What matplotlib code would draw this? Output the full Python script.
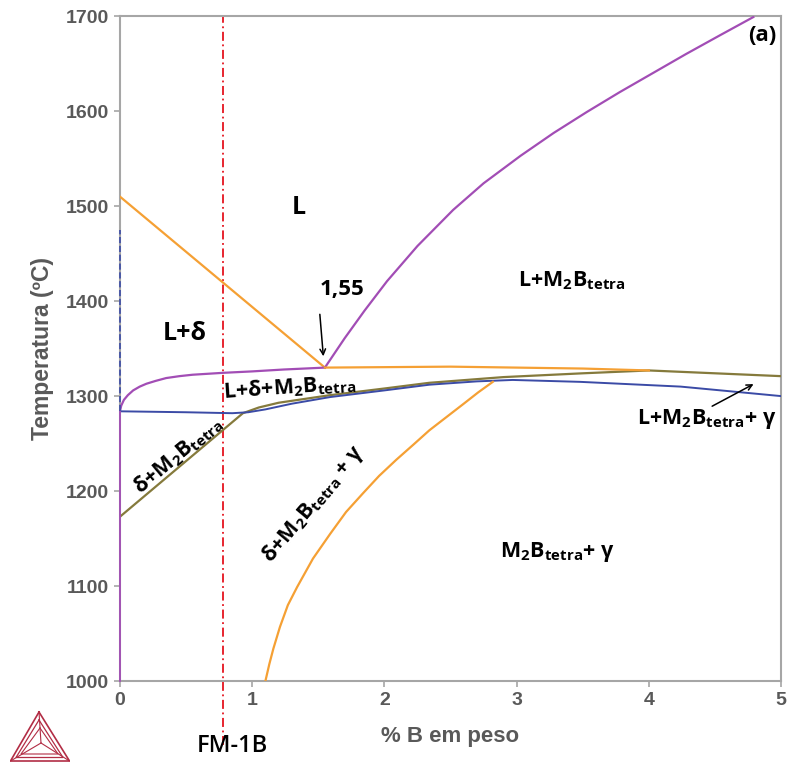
import matplotlib
matplotlib.use("Agg")
import matplotlib.pyplot as plt

# fonts: Arial-like for axes, Calibri-like for the phase labels
plt.rcParams['font.family'] = ['Liberation Sans', 'DejaVu Sans']
plt.rcParams['mathtext.fontset'] = 'custom'
plt.rcParams['mathtext.rm'] = 'Open Sans'
plt.rcParams['mathtext.bf'] = 'Open Sans:bold'

# ---- data (wt% B, temperature degC) ----
liq_delta_x = [0.0, 1.55]
liq_delta_T = [1510, 1330]

liq_m2b_x = [1.55, 1.70, 1.85, 2.02, 2.25, 2.52, 2.75, 3.03, 3.28, 3.53,
             3.78, 4.03, 4.28, 4.54, 4.79]
liq_m2b_T = [1330, 1361, 1390, 1421, 1458, 1496, 1524, 1553, 1577, 1599,
             1620, 1640, 1660, 1680, 1699]

delta_bound_x = [0.0, 0.01, 0.03, 0.06, 0.1, 0.15, 0.2, 0.27, 0.35, 0.45,
                 0.55, 0.78, 1.0, 1.24, 1.55]
delta_bound_T = [1284, 1290, 1296, 1301, 1306, 1310, 1313, 1316, 1319, 1321,
                 1322.5, 1324.5, 1326, 1328, 1330]

eutectic_x = [1.55, 2.5, 3.5, 4.0]
eutectic_T = [1330, 1331, 1329, 1327]

blue_x = [0.0, 0.5, 0.85, 0.97, 1.1, 1.3, 1.59, 2.0, 2.34, 2.7, 2.97, 3.48,
          4.24, 5.0]
blue_T = [1284, 1283, 1282, 1283, 1286, 1292, 1299, 1306, 1312, 1315.5, 1317,
          1315, 1310, 1300]

olive_x = [0.0, 0.93, 1.05, 1.2, 1.59, 2.0, 2.34, 2.9, 3.5, 4.0, 4.5, 5.0]
olive_T = [1173, 1282, 1288, 1293, 1301, 1308, 1314, 1320, 1324, 1327, 1324, 1321]

solvus_x = [1.10, 1.13, 1.16, 1.21, 1.27, 1.34, 1.46, 1.59, 1.71, 1.84,
            1.96, 2.09, 2.22, 2.34, 2.47, 2.60, 2.71, 2.82]
solvus_T = [1000, 1018, 1034, 1057, 1080, 1099, 1129, 1155, 1178, 1198,
            1216, 1233, 1249, 1264, 1278, 1292, 1304, 1315]

left_purple_T = [1000, 1284]
left_blue_T = [1284, 1475]

fm1b_x = 0.78
eutectic_label = "1,55"

x_ticks = [0, 1, 2, 3, 4, 5]
y_ticks = [1000, 1100, 1200, 1300, 1400, 1500, 1600, 1700]

orange = '#F5A034'
purple = '#A24DB5'
blue = '#3B4BA6'
olive = '#857A3C'
red = '#E5141F'
gray = '#A6A6A6'
txtgray = '#595959'

fig = plt.figure(figsize=(7.89, 7.67), dpi=100)
ax = fig.add_axes([0.152, 0.112, 0.838, 0.867])

ax.plot(liq_delta_x, liq_delta_T, color=orange, lw=1.6, zorder=3)
ax.plot(liq_m2b_x, liq_m2b_T, color=purple, lw=1.6, zorder=3)
ax.plot(delta_bound_x, delta_bound_T, color=purple, lw=1.6, zorder=3)
ax.plot(eutectic_x, eutectic_T, color=orange, lw=1.6, zorder=4)
ax.plot(olive_x, olive_T, color=olive, lw=1.6, zorder=3)
ax.plot(blue_x, blue_T, color=blue, lw=1.4, zorder=3)
ax.plot(solvus_x, solvus_T, color=orange, lw=1.6, zorder=3)
ax.plot([0.004, 0.004], left_purple_T, color=purple, lw=1.3, zorder=5, clip_on=False)
ax.plot([0.004, 0.004], left_blue_T, color=blue, lw=1.2, ls='--', zorder=5, clip_on=False)

# composition FM-1B
ax.plot([fm1b_x, fm1b_x], [933, 1700], color=red, lw=1.3, dashes=(5, 2, 1, 2),
        clip_on=False, zorder=2)
ax.text(0.85, 932, 'FM-1B', ha='center', va='center', fontsize=17,
        family=['Open Sans', 'DejaVu Sans'], weight='semibold', clip_on=False)

ax.set_xlim(0, 5)
ax.set_ylim(1000, 1700)
ax.set_xticks(x_ticks)
ax.set_yticks(y_ticks)
for s in ax.spines.values():
    s.set_color(gray)
    s.set_linewidth(1.5)
ax.tick_params(direction='out', length=4, width=1.2, color=gray,
               labelsize=14, labelcolor=txtgray, pad=4)
for lab in ax.get_xticklabels() + ax.get_yticklabels():
    lab.set_fontweight('bold')
ax.set_xlabel('% B em peso', fontsize=16, fontweight='bold', color=txtgray, labelpad=12)
ax.set_ylabel('Temperatura (ºC)', fontsize=16.5, fontweight='bold', color=txtgray, labelpad=8)

# phase labels
lab = dict(family=['Open Sans', 'DejaVu Sans'], weight='bold', color='black',
           ha='center', va='center')
fs = 15.5
ax.text(1.35, 1499, 'L', fontsize=18, **lab)
ax.text(0.49, 1366, 'L+δ', fontsize=18, **lab)
ax.text(1.68, 1412, eutectic_label, fontsize=16, **lab)
ax.annotate('', xy=(1.54, 1339), xytext=(1.51, 1389),
            arrowprops=dict(arrowstyle='->', color='black', lw=1.1))
ax.text(3.42, 1421, r'L+M$_\mathbf{2}$B$_\mathbf{tetra}$', fontsize=fs, **lab)
ax.text(1.28, 1309, r'L+δ+M$_\mathbf{2}$B$_\mathbf{tetra}$', fontsize=fs,
        rotation=4, **lab)
ax.text(0.44, 1238, r'δ+M$_\mathbf{2}$B$_\mathbf{tetra}$', fontsize=fs,
        rotation=40, **lab)
ax.text(1.46, 1186, r'δ+M$_\mathbf{2}$B$_\mathbf{tetra}$ + γ', fontsize=fs,
        rotation=50, **lab)
ax.text(3.31, 1136, r'M$_\mathbf{2}$B$_\mathbf{tetra}$+ γ', fontsize=fs, **lab)
ax.text(4.44, 1276, r'L+M$_\mathbf{2}$B$_\mathbf{tetra}$+ γ', fontsize=fs, **lab)
ax.annotate('', xy=(4.81, 1314), xytext=(4.46, 1288),
            arrowprops=dict(arrowstyle='->', color='black', lw=1.1))
ax.text(4.86, 1680, '(a)', fontsize=16, **lab)

# Thermo-Calc style logo, bottom-left corner
lg = fig.add_axes([10 / 789, 5 / 767, 60 / 789, 52 / 767])
lg.set_xlim(10, 70)
lg.set_ylim(762, 710)
lg.axis('off')
logo_c = '#B22D45'
lg.plot([39, 10.5, 69.5, 39], [712, 761, 761, 712], color=logo_c, lw=1.2)
lg.plot([39, 16, 63, 39], [720, 757.5, 757.5, 720], color=logo_c, lw=0.9)
lg.plot([40, 21, 58, 40], [728, 754, 754, 728], color=logo_c, lw=0.8)
for vx, vy in [(39, 712), (10.5, 761), (69.5, 761)]:
    lg.plot([41, vx], [743, vy], color=logo_c, lw=0.8)

fig.savefig('out.png', dpi=100)
